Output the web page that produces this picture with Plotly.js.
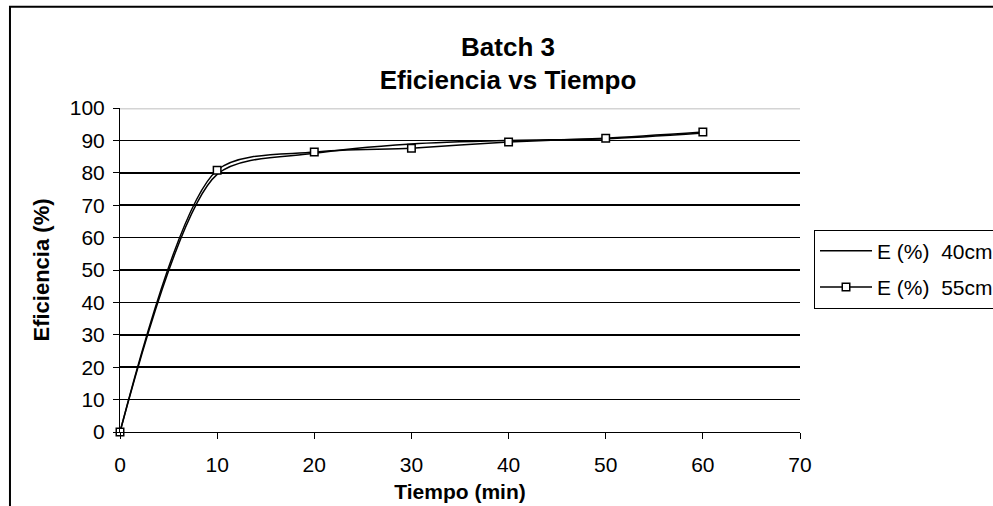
<!DOCTYPE html>
<html>
<head>
<meta charset="utf-8">
<script src="https://cdn.plot.ly/plotly-3.0.1.min.js"></script>
<style>
html,body{margin:0;padding:0;background:#fff;}
#chart{width:993px;height:506px;}
</style>
</head>
<body>
<div id="chart"></div>
<script>
const tiempo = [0, 10, 20, 30, 40, 50, 60];
const e40 = [0, 79.5, 86.0, 88.9, 90.0, 90.5, 92.3];
const e55 = [0, 80.8, 86.4, 87.6, 89.5, 90.7, 92.6];
const seriesNames = ['E (%)\u00a0 40cm', 'E (%)\u00a0 55cm'];
const xTicks = [0, 10, 20, 30, 40, 50, 60, 70];
const yTicks = [0, 10, 20, 30, 40, 50, 60, 70, 80, 90, 100];

const FONT = 'Arial, "Liberation Sans", sans-serif';

const traces = [
  {
    x: tiempo, y: e40, name: seriesNames[0], type: 'scatter', mode: 'lines',
    line: {color: '#000', width: 1.5, shape: 'spline', smoothing: 0.8},
    legendgroup: 'a', cliponaxis: false
  },
  {
    x: tiempo, y: e55, name: seriesNames[1], type: 'scatter', mode: 'lines+markers',
    line: {color: '#000', width: 1.5, shape: 'spline', smoothing: 0.8},
    marker: {symbol: 'square', size: 7.5, color: '#fff', line: {color: '#000', width: 1.5}},
    legendgroup: 'b', cliponaxis: false
  }
];

const layout = {
  width: 993, height: 506,
  margin: {l: 120, r: 193, t: 108, b: 74, pad: 0, autoexpand: false},
  paper_bgcolor: '#fff', plot_bgcolor: '#fff',
  font: {family: FONT, color: '#000', size: 21},
  title: {
    text: '<b>Batch 3</b><br><b>Eficiencia vs Tiempo</b>',
    font: {family: FONT, size: 26, color: '#000'},
    x: 0.5706, xref: 'paper', xanchor: 'center',
    y: 0.89, yref: 'container', yanchor: 'top'
  },
  xaxis: {
    range: [0, 70], tickvals: xTicks, ticktext: xTicks.map(String),
    showgrid: false, zeroline: false,
    showline: true, linecolor: '#000', linewidth: 1,
    ticks: 'outside', ticklen: 6, tickcolor: '#000', tickwidth: 1,
    ticklabelstandoff: 8,
    tickfont: {family: FONT, size: 21, color: '#000'},
    title: {text: '<b>Tiempo (min)</b>', font: {family: FONT, size: 21, color: '#000'}, standoff: 9},
    fixedrange: true
  },
  yaxis: {
    range: [0, 100], tickvals: yTicks, ticktext: yTicks.map(String),
    showgrid: true, gridcolor: '#000', gridwidth: 1.5, zeroline: false,
    showline: true, linecolor: '#000', linewidth: 1,
    ticks: 'outside', ticklen: 6, tickcolor: '#000', tickwidth: 1,
    ticklabelstandoff: 4,
    tickfont: {family: FONT, size: 21, color: '#000'},
    title: {text: '<b>Eficiencia (%)</b>', font: {family: FONT, size: 22, color: '#000'}, standoff: 14},
    fixedrange: true
  },
  showlegend: true,
  legend: {
    x: 1.0206, xanchor: 'left', xref: 'paper',
    y: 0.625, yanchor: 'top', yref: 'paper',
    bgcolor: '#fff', bordercolor: '#000', borderwidth: 1,
    font: {family: FONT, size: 21, color: '#000'},
    traceorder: 'grouped', tracegroupgap: 6,
    itemwidth: 52
  },
  shapes: [
    {type: 'line', xref: 'paper', yref: 'y', x0: 0, x1: 1, y0: 100, y1: 100,
     line: {color: '#d4d4d4', width: 3}, layer: 'above'},
    {type: 'rect', xref: 'paper', yref: 'paper', x0: -0.1618, x1: 1.6, y0: -0.5, y1: 1.3125,
     line: {color: '#000', width: 2}, fillcolor: 'rgba(0,0,0,0)', layer: 'below'}
  ]
};

Plotly.newPlot('chart', traces, layout, {staticPlot: true, displayModeBar: false});
</script>
</body>
</html>
